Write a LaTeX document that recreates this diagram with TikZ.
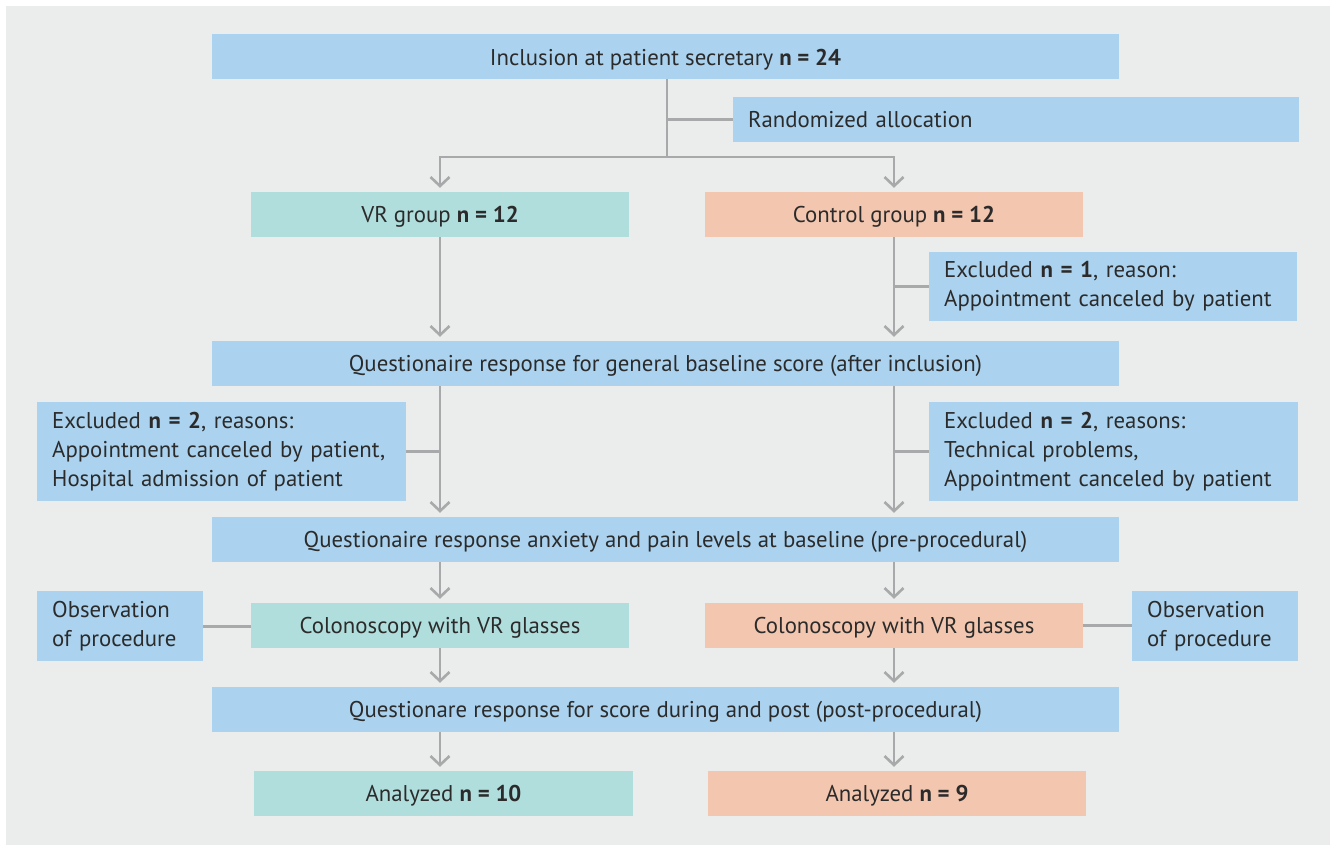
\documentclass[tikz,border=0pt]{standalone}
\usepackage{fontspec}
\setmainfont{PT Sans}
\usetikzlibrary{arrows.meta}
\definecolor{cbg}{HTML}{EBEDEC}
\definecolor{cblue}{HTML}{ABD3EF}
\definecolor{cteal}{HTML}{B0DEDC}
\definecolor{cpeach}{HTML}{F3C7AF}
\definecolor{cline}{HTML}{A7A9AA}
\definecolor{ctext}{HTML}{2B2B2B}
\tikzset{
  box/.style={fill=cblue, inner sep=0pt, minimum height=45, text=ctext, font=\fontsize{22.8}{29}\selectfont},
  sl/.style={text height=16pt, text depth=0pt},
  lbox/.style={box, anchor=north west, align=left, inner xsep=15pt},
  ln/.style={draw=cline, line width=2.6pt},
  arr/.style={ln, -{Straight Barb[length=9pt,width=19pt]}, shorten >=4pt},
}
\begin{document}
\begin{tikzpicture}[x=1pt,y=-1pt]
\useasboundingbox (0,0) rectangle (1335,845);
\fill[white] (0,0) rectangle (1335,845);
\fill[cbg] (6,6) rectangle (1330,845);

\node[box, text height=18pt, text depth=0pt, minimum width=907] (incl) at (665.5,56.5) {Inclusion at patient secretary \textbf{n = 24}};
\node[lbox, sl, minimum width=566, text width=536] (alloc) at (733,97) {Randomized allocation};
\node[box, sl, fill=cteal, minimum width=378] (vr) at (440,214.5) {VR group \textbf{n = 12}};
\node[box, sl, fill=cpeach, minimum width=378] (ctrl) at (894,214.5) {Control group \textbf{n = 12}};
\node[lbox, minimum width=368, minimum height=69, text width=338] (ex1) at (929,252) {Excluded \textbf{n = 1}, reason:\\Appointment canceled by patient};
\node[box, sl, minimum width=907] (q1) at (665.5,363.5) {Questionaire response for general baseline score (after inclusion)};
\node[lbox, minimum width=369, minimum height=99, text width=339] (exL) at (37,402) {Excluded \textbf{n = 2}, reasons:\\Appointment canceled by patient,\\Hospital admission of patient};
\node[lbox, minimum width=369, minimum height=99, text width=339] (exR) at (929,402) {Excluded \textbf{n = 2}, reasons:\\Technical problems,\\Appointment canceled by patient};
\node[box, sl, minimum width=907] (q2) at (665.5,539.5) {Questionaire response anxiety and pain levels at baseline (pre-procedural)};
\node[lbox, minimum width=166, minimum height=70, text width=136] (obsL) at (37,591) {Observation\\of procedure};
\node[box, sl, fill=cteal, minimum width=378] (colL) at (440,625.5) {Colonoscopy with VR glasses};
\node[box, sl, fill=cpeach, minimum width=378] (colR) at (894,625.5) {Colonoscopy with VR glasses};
\node[lbox, minimum width=166, minimum height=70, text width=136] (obsR) at (1132,591) {Observation\\of procedure};
\node[box, sl, minimum width=907] (q3) at (665.5,709.5) {Questionare response for score during and post (post-procedural)};
\node[box, sl, fill=cteal, minimum width=379] (anL) at (443.5,793.5) {Analyzed \textbf{n = 10}};
\node[box, sl, fill=cpeach, minimum width=378] (anR) at (897,793.5) {Analyzed \textbf{n = 9}};

% top split
\coordinate (split) at (667,157);
\draw[ln] (incl.south -| split) -- (split);
\draw[ln] (alloc.west) -- (alloc.west -| split);
\draw[arr] (split) -| (vr.north);
\draw[arr] (split) -| (ctrl.north);

% to q1
\draw[arr] (vr.south) -- (vr.south |- q1.north);
\draw[arr] (ctrl.south) -- (ctrl.south |- q1.north);
\draw[ln] (ex1.west) -- (ex1.west -| ctrl.south);

% to q2
\draw[arr] (q1.south -| vr.south) -- (q2.north -| vr.south);
\draw[arr] (q1.south -| ctrl.south) -- (q2.north -| ctrl.south);
\draw[ln] (exL.east) -- (exL.east -| vr.south);
\draw[ln] (exR.west) -- (exR.west -| ctrl.south);

% to colonoscopy
\draw[arr] (q2.south -| colL.north) -- (colL.north);
\draw[arr] (q2.south -| colR.north) -- (colR.north);
\draw[ln] (obsL.east) -- (obsL.east -| colL.west);
\draw[ln] (colR.east) -- (colR.east -| obsR.west);

% to q3
\draw[arr] (colL.south) -- (colL.south |- q3.north);
\draw[arr] (colR.south) -- (colR.south |- q3.north);

% to analyzed
\draw[arr] (q3.south -| colL.south) -- (anL.north -| colL.south);
\draw[arr] (q3.south -| colR.south) -- (anR.north -| colR.south);
\end{tikzpicture}
\end{document}
